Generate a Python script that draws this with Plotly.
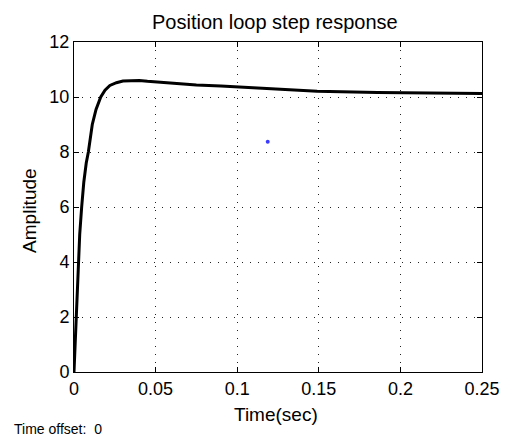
import plotly.graph_objects as go

# Step response samples (time in seconds, amplitude)
time_s = [0, 0.0005, 0.001, 0.0017, 0.0026, 0.0035, 0.0047, 0.006, 0.0075, 0.0088,
          0.0112, 0.0135, 0.0164, 0.019, 0.022, 0.026, 0.030, 0.035, 0.040, 0.045,
          0.055, 0.065, 0.075, 0.09, 0.10, 0.122, 0.149, 0.186, 0.22, 0.25]
amplitude = [0, 0.8, 1.5, 2.0, 4.0, 5.0, 6.0, 6.9, 7.6, 8.0,
             9.0, 9.55, 10.0, 10.25, 10.42, 10.52, 10.58, 10.6, 10.6, 10.57,
             10.52, 10.48, 10.44, 10.4, 10.37, 10.29, 10.21, 10.16, 10.14, 10.13]

# Stray data marker
marker_t = [0.1187]
marker_a = [8.37]

x_ticks = [0, 0.05, 0.1, 0.15, 0.2, 0.25]
x_tick_labels = ["0", "0.05", "0.1", "0.15", "0.2", "0.25"]
y_ticks = [0, 2, 4, 6, 8, 10, 12]
y_tick_labels = ["0", "2", "4", "6", "8", "10", "12"]

FONT = "Liberation Sans, Arial, sans-serif"

fig = go.Figure()
fig.add_trace(go.Scatter(x=time_s, y=amplitude, mode="lines",
                         line=dict(color="black", width=3), showlegend=False,
                         hoverinfo="skip"))
fig.add_trace(go.Scatter(x=marker_t, y=marker_a, mode="markers",
                         marker=dict(color="#3b3bff", size=4), showlegend=False))

axis_common = dict(
    showline=True, linecolor="black", linewidth=1, mirror="allticks",
    ticks="inside", ticklen=5, tickcolor="black", tickwidth=1,
    showgrid=True, gridcolor="#222222", gridwidth=1, griddash="1px,7px",
    zeroline=False, tickfont=dict(family=FONT, size=18, color="black"),
    automargin=False,
)

fig.update_xaxes(range=[0, 0.25], tickvals=x_ticks, ticktext=x_tick_labels,
                 **axis_common)
fig.update_yaxes(range=[0, 12], tickvals=y_ticks, ticktext=y_tick_labels,
                 **axis_common)

fig.update_layout(
    width=508, height=438,
    margin=dict(l=74, r=26, t=42, b=66),
    paper_bgcolor="white", plot_bgcolor="white",
    annotations=[
        dict(text="Position loop step response", xref="paper", yref="paper",
             x=0.493, y=1.061, xanchor="center", yanchor="middle", showarrow=False,
             font=dict(family=FONT, size=20, color="black")),
        dict(text="Time(sec)", xref="paper", yref="paper",
             x=0.495, y=-0.130, xanchor="center", yanchor="middle", showarrow=False,
             font=dict(family=FONT, size=19, color="black")),
        dict(text="Amplitude", xref="paper", yref="paper", textangle=-90,
             x=-0.108, y=0.491, xanchor="center", yanchor="middle", showarrow=False,
             font=dict(family=FONT, size=19, color="black")),
        dict(text="Time offset:\u00a0\u00a00", xref="paper", yref="paper",
             x=-0.152, y=-0.174, xanchor="left", yanchor="middle", showarrow=False,
             font=dict(family=FONT, size=14, color="black")),
    ],
)

fig.write_html("out.html", config={"displayModeBar": False},
               post_script="document.body.style.margin='0px';")
